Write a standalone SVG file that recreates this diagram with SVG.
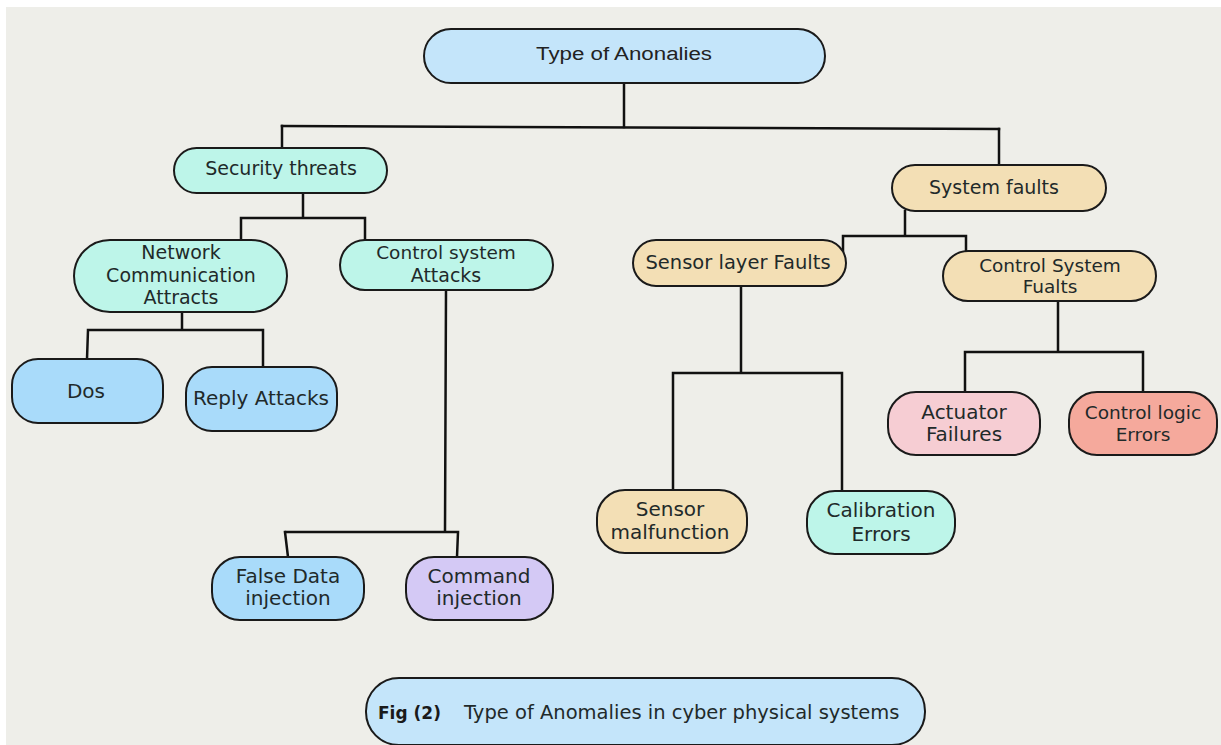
<svg xmlns="http://www.w3.org/2000/svg" width="1221" height="745" viewBox="0 0 1221 745">
<style>
.n{stroke:#1a1a1a;stroke-width:2}
.t{font-family:"DejaVu Sans",sans-serif;font-size:19px;fill:#1f2a2a;text-anchor:middle}
.c{fill:none;stroke:#111;stroke-width:2.5;stroke-linecap:square}
.blue{fill:#C4E5FA}.mint{fill:#BDF5E9}.sky{fill:#A9DBFA}.lav{fill:#D4C9F5}.tan{fill:#F3DFB5}.pink{fill:#F6CDD3}.salmon{fill:#F5A99C}
</style>
<rect x="0" y="0" width="1221" height="745" fill="#ffffff"/>
<rect x="6" y="7" width="1215" height="738" fill="#EEEEE9"/>
<g id="connectors">
<path class="c" d="M624 83V127"/>
<path class="c" d="M282 126L999 129"/>
<path class="c" d="M282 126V148"/>
<path class="c" d="M999 129V165"/>
<path class="c" d="M303 193V218M241 218H365M241 218V240M365 218V240"/>
<path class="c" d="M182 312V330M88 330H263M88 330L87 359M263 330V367"/>
<path class="c" d="M446 290L445 532M285 532H458M285 532L288 557M458 532L457 557"/>
<path class="c" d="M905 211V236M843 236H966M843 236V252M966 236V255"/>
<path class="c" d="M1058 301V352M965 352H1143M965 352V392M1143 352V392"/>
<path class="c" d="M741 286V373M673 373H842M673 373V490M842 373V491"/>
</g>
<g id="n-root"><rect class="n blue" x="424" y="29" width="401" height="54" rx="27"/><text x="624" y="60" style="font-family:'Liberation Sans',Arial,sans-serif;font-size:18px;fill:#222;text-anchor:middle" textLength="176" lengthAdjust="spacingAndGlyphs">Type of Anonalies</text></g>
<g id="n-security"><rect class="n mint" x="174" y="148" width="213" height="45" rx="22.5"/><text class="t" x="281" y="175">Security threats</text></g>
<g id="n-network"><rect class="n mint" x="74" y="240" width="213" height="72" rx="36"/><text class="t" x="181" y="259">Network</text><text class="t" x="181" y="282">Communication</text><text class="t" x="181" y="304">Attracts</text></g>
<g id="n-ctrlattacks"><rect class="n mint" x="340" y="240" width="213" height="50" rx="25"/><text class="t" x="446" y="259" style="font-size:18.5px">Control system</text><text class="t" x="446" y="282">Attacks</text></g>
<g id="n-dos"><rect class="n sky" x="12" y="359" width="151" height="64" rx="26"/><text class="t" x="86" y="398" style="font-size:20px">Dos</text></g>
<g id="n-reply"><rect class="n sky" x="186" y="367" width="151" height="64" rx="26"/><text class="t" x="261" y="405" style="font-size:20px">Reply Attacks</text></g>
<g id="n-fdi"><rect class="n sky" x="212" y="557" width="152" height="63" rx="28"/><text class="t" x="288" y="583" style="font-size:20px">False Data</text><text class="t" x="288" y="605" style="font-size:20px">injection</text></g>
<g id="n-cmd"><rect class="n lav" x="406" y="557" width="147" height="63" rx="28"/><text class="t" x="479" y="583" style="font-size:20px">Command</text><text class="t" x="479" y="605" style="font-size:20px">injection</text></g>
<g id="n-sysfaults"><rect class="n tan" x="892" y="165" width="214" height="46" rx="23"/><text class="t" x="994" y="194">System faults</text></g>
<g id="n-sensorlayer"><rect class="n tan" x="633" y="240" width="213" height="46" rx="23"/><text class="t" x="738" y="269" style="font-size:19.5px">Sensor layer Faults</text></g>
<g id="n-ctrlfaults"><rect class="n tan" x="943" y="251" width="213" height="50" rx="25"/><text class="t" x="1050" y="272" style="font-size:18.5px">Control System</text><text class="t" x="1050" y="293" style="font-size:18.5px">Fualts</text></g>
<g id="n-actuator"><rect class="n pink" x="888" y="392" width="152" height="63" rx="28"/><text class="t" x="964" y="419" style="font-size:20px">Actuator</text><text class="t" x="964" y="441" style="font-size:20px">Failures</text></g>
<g id="n-ctrllogic"><rect class="n salmon" x="1069" y="392" width="148" height="63" rx="28"/><text class="t" x="1143" y="419" style="font-size:18.5px">Control logic</text><text class="t" x="1143" y="441" style="font-size:18.5px">Errors</text></g>
<g id="n-sensormal"><rect class="n tan" x="597" y="490" width="150" height="63" rx="28"/><text class="t" x="670" y="516" style="font-size:20px">Sensor</text><text class="t" x="670" y="539" style="font-size:20px">malfunction</text></g>
<g id="n-calib"><rect class="n mint" x="807" y="491" width="148" height="63" rx="28"/><text class="t" x="881" y="517" style="font-size:20px">Calibration</text><text class="t" x="881" y="541" style="font-size:20px">Errors</text></g>
<g id="n-caption"><rect class="n blue" x="366" y="678" width="559" height="67" rx="33"/><text x="378" y="719" style="font-family:'DejaVu Sans',sans-serif;font-size:17px;font-weight:bold;fill:#1a1a1a">Fig (2)</text><text x="464" y="719" style="font-family:'DejaVu Sans',sans-serif;font-size:19.5px;fill:#1f2a2a">Type of Anomalies in cyber physical systems</text></g>
</svg>
